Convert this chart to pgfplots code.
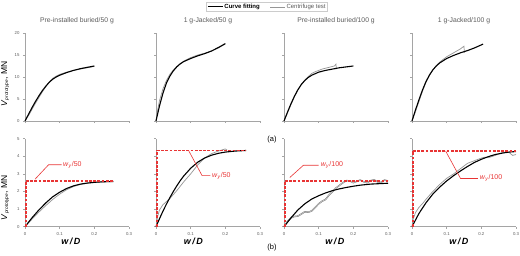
\documentclass[border=0pt]{standalone}
\usepackage{pgfplots}
\pgfplotsset{compat=1.18}
\usepackage{fontspec}
\setmainfont{Liberation Sans}
\definecolor{fitred}{RGB}{232,52,52}
\definecolor{axgray}{RGB}{165,165,165}
\definecolor{testgray}{RGB}{150,150,150}
\definecolor{ticktxt}{RGB}{90,90,90}
\tikzset{ann/.style={font=\fontsize{7}{7}\selectfont, text=fitred, anchor=west, inner sep=0.5pt}}
\pgfplotsset{
  panel/.style={
    scale only axis, width=104pt, height=88pt, anchor=south west,
    xmin=0, xmax=0.3,
    axis x line*=bottom, axis y line*=left,
    axis line style={axgray, line width=0.5pt},
    xtick={0,0.1,0.2,0.3},
    major tick length=2pt, tick align=outside,
    tick style={axgray, line width=0.4pt},
    tick label style={font=\fontsize{4.3}{4.3}\selectfont, text=ticktxt},
    /pgf/number format/assume math mode=true,
    xticklabels={}, yticklabels={},
    title style={font=\fontsize{6.8}{7}\selectfont, text=ticktxt, at={(0.5,1)}, anchor=south, yshift=0pt},
    every axis y label/.style={at={(axis description cs:-0.19,0.42)}, rotate=90, anchor=center},
    clip=false,
  },
  toprow/.style={panel, ymin=0, ymax=20, ytick={0,5,10,15,20}},
  botrow/.style={panel, ymin=0, ymax=5, ytick={0,1,2,3,4,5}, xticklabels={0,0.1,0.2,0.3}},
  xl/.style={xlabel={\fontsize{9}{9}\selectfont\bfseries\itshape w\,/\,D}, every axis x label/.style={at={(axis description cs:#1,-0.17)}, anchor=center}},
  fit/.style={black, line width=1.1pt},
  test/.style={testgray, line width=0.7pt},
  dsh/.style={color=fitred, draw=fitred, dash pattern=on 2.8pt off 1.4pt, line width=1.3pt},
  lead/.style={color=fitred, draw=fitred, line width=0.6pt},
}
\newcommand{\ylab}{\fontsize{8.5}{8.5}\selectfont\textit{V}\textsubscript{\fontsize{4.8}{5}\selectfont\textit{prototype}}, MN}
\newcommand{\wy}[1]{\textit{w}\textsubscript{\textit{y}}/#1}
\begin{document}
\begin{tikzpicture}
\path[use as bounding box] (0pt,0pt) rectangle (520pt,256pt);
% ---------- top row ----------
\begin{axis}[toprow, at={(25pt,135pt)}, yticklabels={0,5,10,15,20}, title={Pre-installed buried/50 g}, ylabel={\ylab}]
\addplot[test] coordinates {(0,0)(0.01,1.2)(0.02,2.6)(0.03,4.0)(0.04,5.3)(0.05,6.6)(0.06,7.8)(0.07,8.9)(0.08,9.7)(0.09,10.2)(0.1,10.6)(0.12,11.1)(0.14,11.5)(0.16,11.8)(0.18,12.1)(0.2,12.4)};
\addplot[fit] coordinates {(0,0)(0.01,1.5)(0.02,3.0)(0.03,4.4)(0.04,5.7)(0.05,6.9)(0.06,7.9)(0.07,8.8)(0.08,9.5)(0.09,10.0)(0.1,10.4)(0.12,11.0)(0.14,11.5)(0.16,11.9)(0.18,12.2)(0.2,12.5)};
\end{axis}
\begin{axis}[toprow, at={(156pt,135pt)}, title={1 g-Jacked/50 g},
  legend style={at={(1.067,1.352)}, anchor=north, legend columns=2, draw=gray!40, font=\fontsize{6}{6.5}\selectfont, inner sep=0.8pt, nodes={inner sep=1pt}, /tikz/every even column/.append style={column sep=9pt}},
  legend image code/.code={\draw[#1] (0pt,0pt) -- (15pt,0pt);}]
\addlegendimage{fit}\addlegendentry{\textbf{Curve fitting}}
\addlegendimage{test}\addlegendentry{\textcolor{ticktxt}{Centrifuge test}}
\addplot[test, forget plot] coordinates {(0,0)(0.005,2.6)(0.01,4.6)(0.02,7.3)(0.03,9.2)(0.04,10.6)(0.05,11.6)(0.06,12.4)(0.08,13.6)(0.1,14.4)(0.12,15.0)(0.14,15.4)(0.16,15.9)(0.18,16.6)(0.2,17.5)};
\addplot[fit, forget plot] coordinates {(0,0)(0.01,3.4)(0.02,6.3)(0.03,8.6)(0.04,10.2)(0.05,11.4)(0.06,12.3)(0.07,13.0)(0.08,13.5)(0.1,14.2)(0.12,14.8)(0.14,15.3)(0.16,15.9)(0.18,16.7)(0.2,17.6)};
\end{axis}
\begin{axis}[toprow, at={(284pt,135pt)}, title={Pre-installed buried/100 g}]
\addplot[test] coordinates {(0,0)(0.01,1.8)(0.02,3.7)(0.03,5.5)(0.04,7.0)(0.05,8.3)(0.06,9.3)(0.07,10.1)(0.08,10.8)(0.09,11.2)(0.1,11.5)(0.11,11.8)(0.12,12.0)(0.13,12.2)(0.14,12.4)(0.145,12.5)(0.15,12.9)(0.151,11.8)};
\addplot[fit] coordinates {(0,0)(0.01,2.0)(0.02,3.9)(0.03,5.6)(0.04,7.1)(0.05,8.3)(0.06,9.2)(0.07,9.9)(0.08,10.4)(0.1,11.1)(0.12,11.5)(0.14,11.8)(0.16,12.1)(0.18,12.3)(0.2,12.5)};
\end{axis}
\begin{axis}[toprow, at={(412pt,135pt)}, title={1 g-Jacked/100 g}]
\addplot[test] coordinates {(0,0)(0.01,2.1)(0.02,4.4)(0.03,6.7)(0.04,8.7)(0.05,10.3)(0.06,11.6)(0.07,12.6)(0.08,13.4)(0.1,14.6)(0.12,15.5)(0.14,16.4)(0.148,16.9)(0.15,17.0)(0.151,15.5)};
\addplot[fit] coordinates {(0,0)(0.01,2.5)(0.02,4.8)(0.03,7.0)(0.04,8.9)(0.05,10.4)(0.06,11.6)(0.07,12.5)(0.08,13.2)(0.1,14.2)(0.12,14.9)(0.14,15.5)(0.16,16.0)(0.18,16.6)(0.2,17.3)(0.205,17.5)};
\end{axis}
% ---------- bottom row ----------
\begin{axis}[botrow, at={(25pt,29.3pt)}, yticklabels={0,1,2,3,4,5}, ylabel={\ylab}, xl=0.44,
  every axis y label/.style={at={(axis description cs:-0.19,0.33)}, rotate=90, anchor=center}]
\addplot[test] coordinates {(0,0)(0.02,0.42)(0.04,0.83)(0.06,1.2)(0.08,1.55)(0.1,1.85)(0.12,2.1)(0.14,2.28)(0.16,2.4)(0.18,2.47)(0.2,2.51)(0.25,2.56)};
\addplot[fit] coordinates {(0,0)(0.02,0.5)(0.04,0.95)(0.06,1.35)(0.08,1.7)(0.1,1.96)(0.12,2.17)(0.14,2.32)(0.16,2.42)(0.18,2.48)(0.2,2.52)(0.22,2.55)(0.255,2.57)};
\addplot[dsh] coordinates {(0.003,0)(0.003,2.6)};
\addplot[dsh] coordinates {(0.003,2.6)(0.255,2.6)};
\addplot[lead] coordinates {(0.029,2.7)(0.068,3.52)(0.106,3.52)};
\node[ann] at (axis cs:0.108,3.52) {\wy{50}};
\end{axis}
\begin{axis}[botrow, at={(156pt,29.3pt)}, xl=0.36]
\addplot[test] coordinates {(0,0)(0.005,0.6)(0.01,0.95)(0.02,1.25)(0.04,1.6)(0.06,2.05)(0.08,2.55)(0.1,3.0)(0.12,3.5)(0.14,3.9)(0.16,4.15)(0.18,4.3)(0.2,4.42)(0.205,4.35)};
\addplot[fit] coordinates {(0,0)(0.01,0.45)(0.02,0.88)(0.03,1.28)(0.04,1.65)(0.05,2.0)(0.06,2.32)(0.07,2.62)(0.08,2.88)(0.1,3.32)(0.12,3.66)(0.14,3.9)(0.16,4.06)(0.18,4.17)(0.2,4.24)(0.23,4.3)(0.26,4.33)};
\addplot[dsh] coordinates {(0.003,0)(0.003,4.33)};
\addplot[dsh] coordinates {(0.003,4.33)(0.26,4.33)};
\addplot[lead] coordinates {(0.094,4.33)(0.133,2.9)(0.157,2.9)};
\node[ann] at (axis cs:0.16,2.9) {\wy{50}};
\end{axis}
\begin{axis}[botrow, at={(284pt,29.3pt)}, xl=0.49]
\addplot[testgray!80!black, line width=1.4pt] coordinates {(0,0)(0.01,0.3)(0.02,0.5)(0.03,0.58)(0.04,0.6)(0.05,0.72)(0.06,0.85)(0.07,0.82)(0.08,0.9)(0.09,1.1)(0.1,1.3)(0.11,1.45)(0.12,1.55)(0.13,1.8)(0.14,2.0)(0.15,2.2)(0.16,2.35)(0.17,2.5)(0.18,2.62)(0.19,2.6)(0.2,2.5)(0.21,2.58)(0.22,2.65)(0.23,2.55)(0.24,2.5)(0.25,2.62)(0.26,2.66)(0.27,2.55)(0.28,2.52)(0.29,2.65)(0.3,2.6)};
\addplot[gray!35, line width=0.5pt] coordinates {(0,0)(0.01,0.3)(0.02,0.5)(0.03,0.58)(0.04,0.6)(0.05,0.72)(0.06,0.85)(0.07,0.82)(0.08,0.9)(0.09,1.1)(0.1,1.3)(0.11,1.45)(0.12,1.55)(0.13,1.8)(0.14,2.0)(0.15,2.2)(0.16,2.35)(0.17,2.5)(0.18,2.62)(0.19,2.6)(0.2,2.5)(0.21,2.58)(0.22,2.65)(0.23,2.55)(0.24,2.5)(0.25,2.62)(0.26,2.66)(0.27,2.55)(0.28,2.52)(0.29,2.65)(0.3,2.6)};
\addplot[fit] coordinates {(0,0)(0.02,0.5)(0.04,0.95)(0.06,1.3)(0.08,1.57)(0.1,1.76)(0.12,1.92)(0.14,2.05)(0.16,2.15)(0.18,2.23)(0.2,2.3)(0.22,2.36)(0.25,2.42)(0.3,2.47)};
\addplot[dsh] coordinates {(0.003,0)(0.003,2.6)};
\addplot[dsh] coordinates {(0.003,2.6)(0.3,2.6)};
\addplot[lead] coordinates {(0.017,2.8)(0.056,3.49)(0.1,3.49)};
\node[ann] at (axis cs:0.104,3.49) {\wy{100}};
\end{axis}
\begin{axis}[botrow, at={(412pt,29.3pt)}, xl=0.45]
\addplot[test] coordinates {(0,0)(0.003,0.4)(0.01,0.8)(0.02,1.1)(0.03,1.3)(0.04,1.55)(0.06,2.0)(0.08,2.4)(0.1,2.75)(0.12,3.0)(0.14,3.3)(0.16,3.6)(0.18,3.75)(0.2,3.9)(0.21,3.95)(0.22,3.92)(0.24,4.05)(0.26,4.2)(0.27,4.25)(0.28,4.22)(0.29,4.05)(0.3,4.1)};
\addplot[fit] coordinates {(0,0)(0.02,0.75)(0.04,1.35)(0.06,1.85)(0.08,2.25)(0.1,2.6)(0.12,2.9)(0.14,3.17)(0.16,3.42)(0.18,3.65)(0.2,3.83)(0.22,3.98)(0.24,4.1)(0.26,4.18)(0.28,4.24)(0.3,4.27)};
\addplot[dsh] coordinates {(0.003,0)(0.003,4.3)};
\addplot[dsh] coordinates {(0.003,4.3)(0.3,4.3)};
\addplot[lead] coordinates {(0.097,4.3)(0.14,2.74)(0.19,2.74)};
\node[ann] at (axis cs:0.194,2.74) {\wy{100}};
\end{axis}
\node[font=\fontsize{7.5}{7.5}\selectfont] at (272pt,116pt) {(a)};
\node[font=\fontsize{7.5}{7.5}\selectfont] at (272pt,8pt) {(b)};
\end{tikzpicture}
\end{document}
